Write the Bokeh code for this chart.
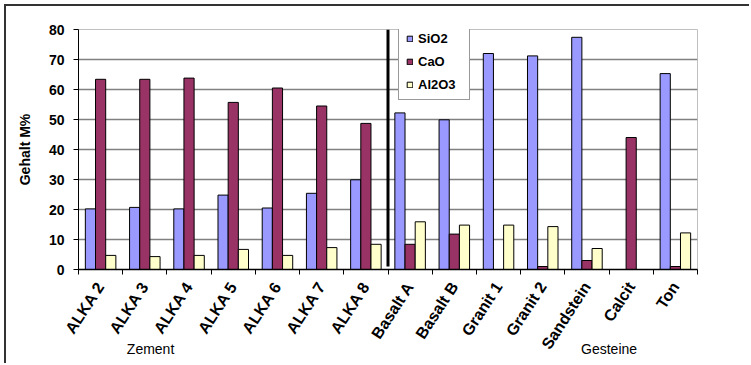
import math
from bokeh.plotting import figure
from bokeh.models import FixedTicker, Legend, LegendItem, LinearAxis
from bokeh.embed import file_html
from bokeh.resources import INLINE

zement = ["ALKA 2", "ALKA 3", "ALKA 4", "ALKA 5", "ALKA 6", "ALKA 7", "ALKA 8"]
gesteine = ["Basalt A", "Basalt B", "Granit 1", "Granit 2", "Sandstein", "Calcit", "Ton"]
categories = zement + gesteine
sio2 = [20.2, 20.7, 20.2, 24.8, 20.5, 25.4, 29.9, 52.2, 49.9, 72.0, 71.2, 77.4, 0.0, 65.3]
cao = [63.4, 63.4, 63.8, 55.7, 60.5, 54.5, 48.7, 8.4, 11.8, 0.0, 1.0, 3.0, 44.0, 1.0]
al2o3 = [4.7, 4.3, 4.7, 6.7, 4.7, 7.3, 8.4, 15.9, 14.8, 14.8, 14.3, 7.0, 0.0, 12.2]
y_ticks = [0, 10, 20, 30, 40, 50, 60, 70, 80]
group_labels = ["Zement", "Gesteine"]
group_pos = [1.63, 12.0]

FONT = "Liberation Sans"
n = len(categories)
centers = [i + 0.5 for i in range(n)]
bw = 0.23

p = figure(width=745, height=359, x_range=(0, n), y_range=(0, 80),
           output_backend="svg", toolbar_location=None,
           min_border_left=72, min_border_top=23, min_border_right=54, min_border_bottom=96)
p.styles = {"border-top": "2px solid #333333", "border-left": "2px solid #333333",
            "margin-left": "4px", "margin-top": "4px"}
p.outline_line_color = "#c0c0c0"
p.outline_line_width = 1

r1 = p.vbar(x=[c - bw for c in centers], top=sio2, width=bw, fill_color="#9999FF",
            line_color="black", line_width=1)
r2 = p.vbar(x=centers, top=cao, width=bw, fill_color="#993366",
            line_color="black", line_width=1)
r3 = p.vbar(x=[c + bw for c in centers], top=al2o3, width=bw, fill_color="#FFFFCC",
            line_color="black", line_width=1)

# separator between Zement and Gesteine
sep = len(zement)
p.segment(x0=[sep], y0=[1], x1=[sep], y1=[80], line_color="black", line_width=3)

# grid
p.xgrid.visible = False
p.ygrid.grid_line_color = "#808080"
p.ygrid.grid_line_width = 1.5

# y axis
p.yaxis.ticker = FixedTicker(ticks=y_ticks)
p.yaxis.minor_tick_line_color = None
p.yaxis.major_tick_out = 5
p.yaxis.major_tick_in = 0
p.yaxis.major_label_standoff = 9
p.yaxis.major_label_text_font = FONT
p.yaxis.major_label_text_font_style = "bold"
p.yaxis.major_label_text_font_size = "14px"
p.yaxis.major_label_text_color = "black"
p.yaxis.axis_label = "Gehalt M%"
p.yaxis.axis_label_text_font = FONT
p.yaxis.axis_label_text_font_style = "bold"
p.yaxis.axis_label_text_font_size = "14px"
p.yaxis.axis_label_text_color = "black"
p.yaxis.axis_label_standoff = 13
p.yaxis.axis_line_color = "black"

# x axis
p.xaxis.ticker = FixedTicker(ticks=centers, minor_ticks=list(range(n + 1)))
p.xaxis.major_label_overrides = {c: name for c, name in zip(centers, categories)}
p.xaxis.major_tick_out = 0
p.xaxis.major_tick_in = 0
p.xaxis.minor_tick_out = 5
p.xaxis.minor_tick_in = 0
p.xaxis.minor_tick_line_color = "black"
p.xaxis.major_label_orientation = math.radians(57)
p.xaxis.major_label_standoff = 9
p.xaxis.major_label_text_font = FONT
p.xaxis.major_label_text_font_style = "bold"
p.xaxis.major_label_text_font_size = "16px"
p.xaxis.major_label_text_color = "black"
p.xaxis.axis_line_color = "black"
p.xaxis.axis_line_width = 1.5

# group labels as a second axis below
gax = LinearAxis(ticker=FixedTicker(ticks=group_pos, minor_ticks=[]),
                 major_label_overrides={gp: t for gp, t in zip(group_pos, group_labels)},
                 axis_line_color=None, major_tick_line_color=None, minor_tick_line_color=None,
                 major_tick_out=0, major_tick_in=0,
                 major_label_standoff=-19, major_label_text_font=FONT,
                 major_label_text_font_size="14px", major_label_text_color="black")
p.add_layout(gax, "below")

legend = Legend(items=[LegendItem(label="SiO2", renderers=[r1]),
                       LegendItem(label="CaO", renderers=[r2]),
                       LegendItem(label="Al2O3", renderers=[r3])],
                location=(320, 169), orientation="vertical",
                padding=7, spacing=8, margin=0,
                glyph_width=7, glyph_height=7, label_height=14, label_width=44,
                label_standoff=5, label_text_font=FONT, label_text_font_style="bold",
                label_text_font_size="13px", label_text_color="black",
                border_line_color="#333333", border_line_width=1,
                background_fill_color="white", background_fill_alpha=1)
p.add_layout(legend)

open("out.html", "w").write(file_html(p, INLINE))
